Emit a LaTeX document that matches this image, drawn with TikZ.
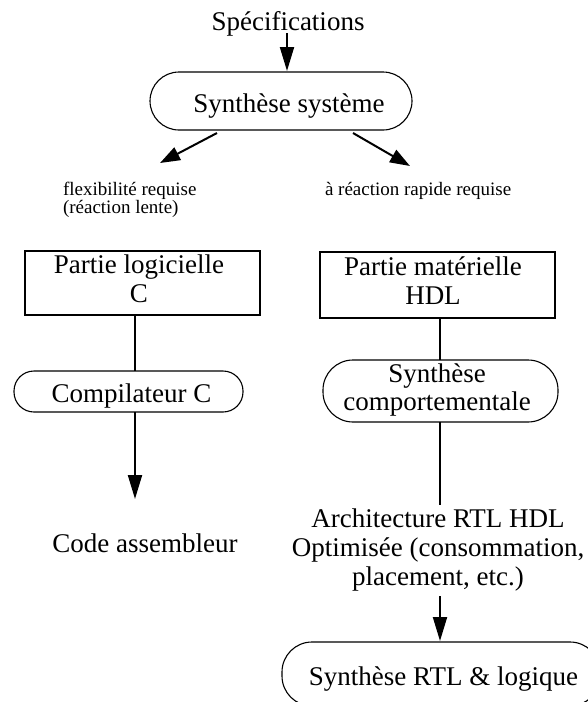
\documentclass[tikz,border=0pt]{standalone}
\usepackage{fontspec}
\setmainfont{Liberation Serif}
\usetikzlibrary{arrows.meta}
\begin{document}
\begin{tikzpicture}[x=1pt,y=-1pt,
  every node/.style={inner sep=0pt, outer sep=0pt},
  big/.style={font=\fontsize{27}{29}\selectfont, align=center},
  small/.style={font=\fontsize{19}{14.5}\selectfont, align=left},
  rbox/.style={draw, line width=1.1pt},
  sbox/.style={draw, line width=1.1pt},
  conn/.style={line width=2pt},
  arr/.style={line width=2pt, -{Triangle[length=24pt,width=14pt]}},
  darr/.style={line width=2pt, -{Triangle[length=20pt,width=14pt]}}]
\useasboundingbox (0,0) rectangle (588,702);
\clip (0,0) rectangle (588,702);
% top
\node[big, anchor=base] (spec) at (288,30) {Spécifications};
\coordinate (specb) at (287,33);
\draw[rbox, rounded corners=29pt] (150,72) rectangle (412,130);
\node[big, anchor=base] (synsys) at (289,112) {Synthèse système};
\coordinate (synsystop) at (287,71);
\draw[arr] (specb) -- (synsystop);
\coordinate (la) at (217,133);
\coordinate (lb) at (160,163);
\coordinate (ra) at (353,133);
\coordinate (rb) at (410,166);
\draw[darr] (la) -- (lb);
\draw[darr] (ra) -- (rb);
\node[small, anchor=north west] (flex) at (63,182) {flexibilité requise\\(réaction lente)};
\node[small, anchor=base west] (rapide) at (325,195) {à réaction rapide requise};
% left column
\draw[sbox] (25,251) rectangle (260,315);
\node[big, anchor=north] (plog) at (139,254.6) {Partie logicielle\\C};
\draw[rbox, rounded corners=20pt] (14,371) rectangle (243,412);
\node[big, anchor=base] (comp) at (131.5,402) {Compilateur C};
\coordinate (plogb) at (135,315);
\coordinate (compt) at (135,371);
\coordinate (compb) at (135,412);
\coordinate (codet) at (135,499);
\draw[conn] (plogb) -- (compt);
\draw[arr] (compb) -- (codet);
\node[big, anchor=base] (code) at (145,552) {Code assembleur};
% right column
\draw[sbox] (320,252) rectangle (555,318);
\node[big, anchor=north] (pmat) at (433,256.6) {Partie matérielle\\HDL};
\draw[rbox, rounded corners=30pt] (323,360) rectangle (558,422);
\node[big, anchor=north, font=\fontsize{27}{28}\selectfont] (syncomp) at (437,363.6) {Synthèse\\comportementale};
\coordinate (pmatb) at (440,318);
\coordinate (syncompt) at (440,360);
\coordinate (syncompb) at (440,422);
\coordinate (archt) at (440,505);
\draw[conn] (pmatb) -- (syncompt);
\draw[conn] (syncompb) -- (archt);
\node[big, anchor=north] (arch) at (438,508.6) {Architecture RTL HDL\\Optimisée (consommation,\\placement, etc.)};
\coordinate (archb) at (440,596);
\coordinate (rtlt) at (440,641);
\draw[arr] (archb) -- (rtlt);
\draw[rbox, rounded corners=30pt] (282,642) rectangle (600,706);
\node[big, anchor=base] (rtl) at (443.5,685) {Synthèse RTL \& logique};
\end{tikzpicture}
\end{document}
